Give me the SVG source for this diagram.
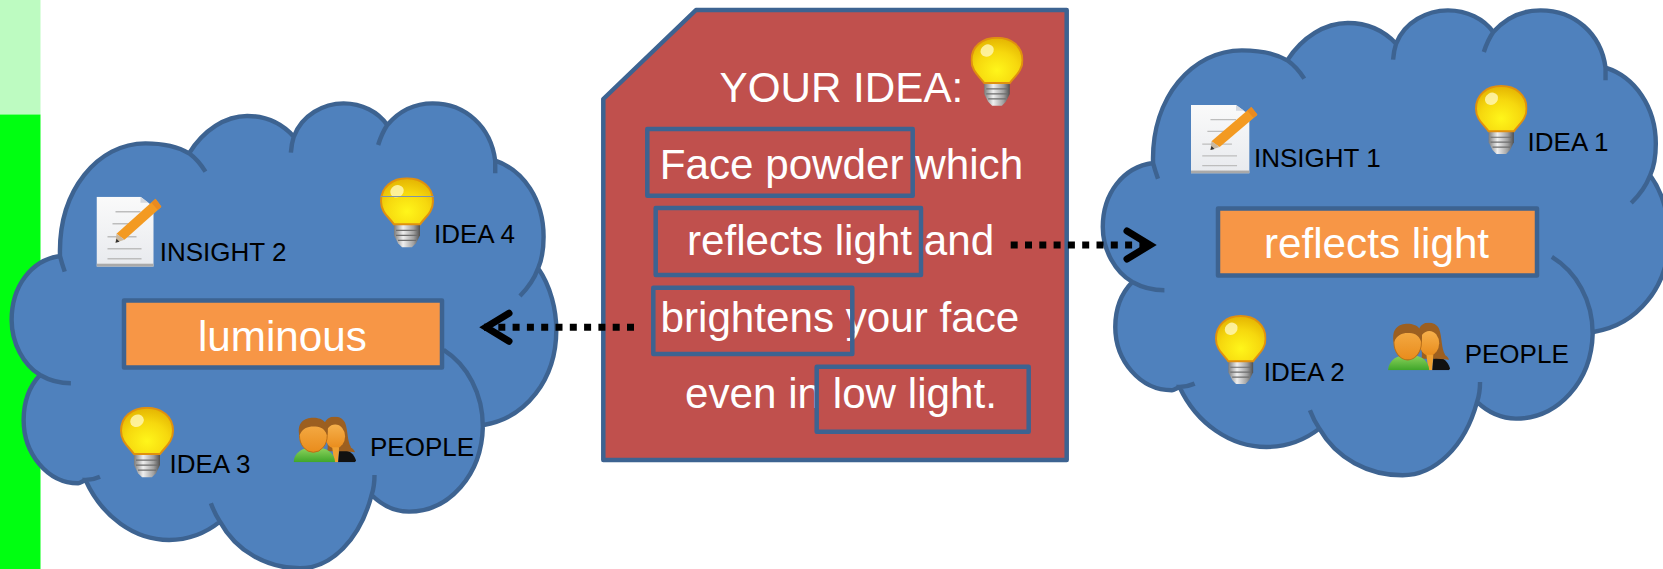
<svg xmlns="http://www.w3.org/2000/svg" xmlns:xlink="http://www.w3.org/1999/xlink" width="1663" height="569" viewBox="0 0 1663 569">
<style>
text{font-family:"Liberation Sans",Arial,sans-serif}
.w{fill:#fff;font-size:42.2px}
.k{fill:#000;font-size:26px}
.fr{fill:none;stroke:#3D6391;stroke-width:4.5;stroke-linejoin:round}
.or{fill:#F79646;stroke:#3D6391;stroke-width:4.5;stroke-linejoin:round}
.cf{fill:#4F81BD}
.cs{fill:none;stroke:#3D6391;stroke-width:4.400;vector-effect:non-scaling-stroke}
.dot{fill:none;stroke:#000;stroke-width:7;stroke-dasharray:7 7.3}
</style>
<defs>
<radialGradient id="gB" cx=".5" cy=".72" r=".75"><stop offset="0" stop-color="#FFF61A"/><stop offset=".55" stop-color="#F6D80E"/><stop offset="1" stop-color="#E2B000"/></radialGradient>
<linearGradient id="gM" x1="0" x2="1" y1="0" y2="0"><stop offset="0" stop-color="#7C7C7C"/><stop offset=".35" stop-color="#EFEFEF"/><stop offset=".75" stop-color="#A0A0A0"/><stop offset="1" stop-color="#505050"/></linearGradient>
<linearGradient id="gP" x1="0" x2="0" y1="0" y2="1"><stop offset="0" stop-color="#FAFAFA"/><stop offset="1" stop-color="#E8EAEE"/></linearGradient>
<linearGradient id="gG" x1="0" x2="0" y1="0" y2="1"><stop offset="0" stop-color="#8FD45E"/><stop offset="1" stop-color="#3FA62A"/></linearGradient>
<linearGradient id="gF" x1="0" x2="0" y1="0" y2="1"><stop offset="0" stop-color="#F6B04C"/><stop offset="1" stop-color="#E98C1C"/></linearGradient>
<symbol id="bulb" viewBox="0 0 54 71" preserveAspectRatio="none">
<path d="M14 47H40V58L36 66 32 70H22L18 66 14 58Z" fill="url(#gM)"/>
<path d="M16 53H38M16 58H38M18 63H36" stroke="#6E6E6E" stroke-width="1.2" fill="none"/>
<path d="M27 1C42 1 53 10 53 24 53 35 45 40 40 47 H14C9 40 1 35 1 24 1 10 12 1 27 1Z" fill="url(#gB)" stroke="#E0900F" stroke-width="2"/>
<ellipse cx="17" cy="14" rx="7" ry="6" fill="#FFF6B0" opacity=".85" transform="rotate(-30 17 14)"/>
</symbol>
<symbol id="note" viewBox="0 0 65 70" preserveAspectRatio="none">
<path d="M0 0H44L57 10V70H0Z" fill="url(#gP)"/>
<rect x="0" y="67" width="57" height="3" fill="#A9A9A9"/>
<path d="M19 15H44M16 27H42M11 40H40M11 52H45M11 62H45" stroke="#BDBDBD" stroke-width="1.4" fill="none"/>
<path d="M44 0L52 6 44 6Z" fill="#D4D8DF"/>
<path d="M59 2L65 10 28 43 20 37Z" fill="#F39A22"/>
<path d="M59 2L65 10 61 13 55 6Z" fill="#E98A20"/>
<path d="M20 37L28 43 19 46Z" fill="#C9B8A0"/>
<path d="M20 42L23 45 19 46Z" fill="#333"/>
</symbol>
<symbol id="people" viewBox="0 0 63 46" preserveAspectRatio="none">
<path d="M31 8C33 -2 47 -3 52 6 55 14 54 24 58 31L50 35H34C36 26 31 18 31 8Z" fill="#9C5F20"/>
<ellipse cx="42" cy="20" rx="10" ry="12" fill="url(#gF)"/>
<path d="M39 31H46L45 46H41Z" fill="#F0A030"/>
<path d="M46 35C54 32 60 36 63 44 L62 46H45Z" fill="#111"/>
<path d="M48 29C54 29 61 31 62 36 56 35 50 35 46 35Z" fill="#9C5F20"/>
<path d="M0 46C1 36 9 31 21 31 33 31 41 36 42 46Z" fill="url(#gG)"/>
<ellipse cx="20" cy="19" rx="14" ry="17" fill="url(#gF)" stroke="#B86E18" stroke-width="1"/>
<path d="M6 19C3 6 11 1 20 1 30 1 37 7 34 19 31 11 26 10 20 10 14 10 9 12 6 19Z" fill="#9C5F20"/>
</symbol>
<marker id="chev" markerUnits="userSpaceOnUse" viewBox="-32 -18 36 36" refX="0" refY="0" markerWidth="36" markerHeight="36" orient="auto">
<path d="M-26 -14L-3 0-26 14" fill="none" stroke="#000" stroke-width="7" stroke-linecap="round" stroke-linejoin="miter"/>
</marker>
<g id="cloudShape">
<path class="cf" d="M165 498C160 300 270 160 400 160 450 160 490 170 520 190 560 120 620 78 680 78 730 78 775 100 808 140 830 75 890 40 945 40 995 40 1040 65 1065 105 1100 60 1145 40 1190 40 1280 40 1350 110 1362 212 1440 240 1495 330 1495 440 1495 475 1490 510 1480 535 1515 590 1530 660 1530 720 1530 870 1445 985 1330 1005 1325 1155 1235 1265 1125 1265 1085 1265 1050 1245 1022 1215 990 1350 910 1435 825 1435 735 1435 650 1385 605 1295 565 1330 515 1350 465 1350 370 1350 280 1280 235 1170 225 1175 220 1180 215 1180 130 1180 65 1090 65 990 65 935 80 890 110 855 65 825 32 760 32 690 32 590 85 510 165 498Z"/>
<path class="cs" d="M178 545Q170 520 165 498C160 300 270 160 400 160 450 160 490 170 520 190Q545 210 565 245M520 190C560 120 620 78 680 78 730 78 775 100 808 140Q802 160 800 188M808 140C830 75 890 40 945 40 995 40 1040 65 1065 105Q1050 130 1040 165M1065 105C1100 60 1145 40 1190 40 1280 40 1350 110 1362 212V250M1362 212C1440 240 1495 330 1495 440 1495 475 1490 510 1480 535Q1465 580 1430 618M1480 535C1515 590 1530 660 1530 720 1530 870 1445 985 1330 1005M1220 780C1285 825 1328 910 1328 1010 1325 1155 1235 1265 1125 1265 1085 1265 1050 1245 1022 1215Q1030 1190 1030 1155M1022 1215C990 1350 910 1435 825 1435 735 1435 650 1385 605 1295Q590 1270 580 1240M605 1295C565 1330 515 1350 465 1350 370 1350 280 1280 235 1170Q255 1170 275 1160M235 1170C225 1175 220 1180 215 1180 130 1180 65 1090 65 990 65 935 80 890 110 855Q150 880 195 880M110 855C65 825 32 760 32 690 32 590 85 510 165 498"/>
</g>
</defs>
<g id="sidebar">
<rect x="0" y="0" width="40.500" height="114.500" fill="#BDFBC1"/>
<rect x="0" y="114.500" width="40.500" height="454.500" fill="#00FF11"/>
</g>
<g id="cloud-left">
<use href="#cloudShape" transform="matrix(.3636 0 0 .3333 0 90)"/>
<use href="#note" x="96.500" y="196.700" width="65" height="70"/>
<use href="#bulb" x="380" y="177.300" width="54" height="71"/>
<path d="M380.500 196.500H434" stroke="#7E93A8" stroke-width="1"/>
<use href="#bulb" x="120" y="406.700" width="54" height="71.500"/>
<use href="#people" x="293.500" y="416.700" width="62.500" height="45.500"/>
<rect class="or" x="124" y="300.500" width="318" height="67"/>
<text class="w" x="198" y="350.500">luminous</text>
<text class="k" x="159.700" y="260.500">INSIGHT 2</text>
<text class="k" x="434" y="242.700">IDEA 4</text>
<text class="k" x="169.500" y="472.700">IDEA 3</text>
<text class="k" x="370" y="455.700">PEOPLE</text>
</g>
<g id="cloud-right">
<use href="#cloudShape" transform="matrix(.378 0 0 .3333 1090.700 -3)"/>
<use href="#note" x="1191" y="105" width="66.500" height="68.500"/>
<use href="#bulb" x="1475" y="85" width="52.500" height="70"/>
<use href="#bulb" x="1215" y="315" width="51.500" height="70"/>
<use href="#people" x="1388" y="322.700" width="62" height="47.500"/>
<rect class="or" x="1218" y="208.500" width="319" height="67"/>
<text class="w" x="1264" y="257.500">reflects light</text>
<text class="k" x="1254" y="166.700">INSIGHT 1</text>
<text class="k" x="1527.600" y="150.700">IDEA 1</text>
<text class="k" x="1263.700" y="380.700">IDEA 2</text>
<text class="k" x="1464.700" y="363.300">PEOPLE</text>
</g>
<g id="idea-card">
<path d="M603.300 99L696 10H1066.700V460H603.300Z" fill="#C0504D" stroke="#3D6391" stroke-width="4.500" stroke-linejoin="round"/>
<text class="w" x="719.500" y="102">YOUR IDEA:</text>
<use href="#bulb" x="970.500" y="36.700" width="53" height="70"/>
<text class="w" x="659.700" y="178.700">Face powder which</text>
<text class="w" x="687" y="255">reflects light and</text>
<text class="w" x="660.500" y="331.500">brightens your face</text>
<text class="w" x="685" y="407.500">even in low light.</text>
</g>
<g id="highlight-face-powder"><rect class="fr" x="647.300" y="129" width="265.400" height="66.700"/></g>
<g id="highlight-reflects-light"><rect class="fr" x="655.700" y="208" width="265.300" height="67"/></g>
<g id="highlight-brightens"><rect class="fr" x="653.300" y="287.700" width="199" height="66.300"/></g>
<g id="highlight-low-light"><rect class="fr" x="816.700" y="366.700" width="212" height="65"/></g>
<g id="connectors">
<path class="dot" d="M634 327.300H483" marker-end="url(#chev)"/>
<path class="dot" d="M1010.700 245H1153" marker-end="url(#chev)"/>
</g>
</svg>
